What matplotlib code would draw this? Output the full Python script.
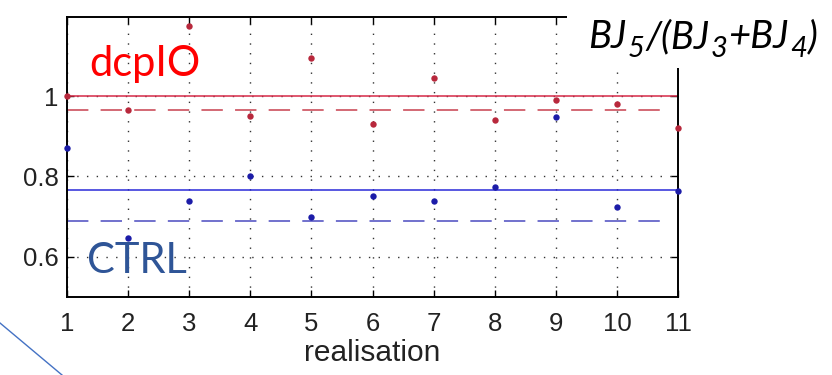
import numpy as np
import matplotlib
matplotlib.use("Agg")
import matplotlib.pyplot as plt
from matplotlib.lines import Line2D
from matplotlib.patches import Rectangle

plt.rcParams["font.family"] = "Liberation Sans"

# ---------- Data ----------
realisation = np.arange(1, 12)
dcpio = [1.000, 0.965, 1.175, 0.950, 1.095, 0.930, 1.045, 0.940, 0.990, 0.980, 0.920]
ctrl = [0.872, 0.647, 0.740, 0.800, 0.700, 0.752, 0.740, 0.775, 0.947, 0.725, 0.765]
dcpio_solid, dcpio_dashed = 1.000, 0.965
ctrl_solid, ctrl_dashed = 0.767, 0.690
x_ticks = list(range(1, 12))
y_ticks = [0.6, 0.8, 1.0]
y_tick_labels = ["0.6", "0.8", "1"]

RED_LINE = "#d62a48"
RED_DOT = "#b8283c"
BLUE_LINE = "#2a2ad8"
BLUE_DOT = "#1c1ca8"

W, H = 832, 375
fig = plt.figure(figsize=(W / 100, H / 100), dpi=100)
ax = fig.add_axes([67 / W, 1 - 297 / H, (678 - 67) / W, (297 - 17) / H])

# reference lines
ax.axhline(dcpio_solid, color=RED_LINE, lw=1.1, zorder=2)
ax.axhline(ctrl_solid, color=BLUE_LINE, lw=1.1, zorder=2)
ax.plot([1, 10.7], [dcpio_dashed] * 2, color="#c8404e", lw=1.1,
        dashes=(14, 8), zorder=2)
ax.plot([1, 10.7], [ctrl_dashed] * 2, color="#4a4ac0", lw=1.1,
        dashes=(14, 8), zorder=2)

# points
ax.plot(realisation, dcpio, "o", color=RED_DOT, ms=4.6, mew=0,
        clip_on=False, zorder=3)
ax.plot(realisation, ctrl, "o", color=BLUE_DOT, ms=4.6, mew=0,
        clip_on=False, zorder=3)

ax.set_xlim(1, 11)
ax.set_ylim(0.5, 1.197)
ax.set_xticks(x_ticks)
ax.set_yticks(y_ticks)
ax.set_yticklabels(y_tick_labels)
ax.grid(True, color="#333333", lw=1.0, linestyle=(0, (1, 6)))
ax.tick_params(direction="in", top=True, right=True, length=5, width=1,
               labelsize=18.5, labelcolor="#222222")
ax.tick_params(axis="x", pad=11)
ax.tick_params(axis="y", pad=6)
for s in ax.spines.values():
    s.set_linewidth(1.4)
ax.set_xlabel("realisation", fontsize=21.5, color="#222222", labelpad=2)

# slide annotations
fig.text(89 / W, 1 - 76 / H, "dcpIO", fontsize=30, family="Lato",
         color="#ff0000")
fig.text(87 / W, 1 - 273 / H, "CTRL", fontsize=30, family="Lato",
         color="#2f5597")

fig.add_artist(Rectangle((567 / W, 1 - 68 / H), (W - 567) / W, 68 / H,
                         transform=fig.transFigure, facecolor="white",
                         edgecolor="none", zorder=5))

# BJ5/(BJ3+BJ4) written piece by piece, italic with italic subscripts
pieces = [("BJ", False), ("5", True), ("/(BJ", False), ("3", True),
          ("+BJ", False), ("4", True), (")", False)]
renderer = fig.canvas.get_renderer()
x_px, base_px = 588, 48
for txt, sub in pieces:
    size = 21 if sub else 27.5
    y_px = base_px + 9 if sub else base_px
    t = fig.text(x_px / W, 1 - y_px / H, txt, fontsize=size, family="Lato",
                 style="italic", color="black", zorder=6)
    bb = t.get_window_extent(renderer)
    x_px += bb.width + 1

fig.add_artist(Line2D([0, 62 / W], [1 - 323 / H, 0], transform=fig.transFigure,
                      color="#4472c4", lw=1.0))

fig.savefig("out.png", dpi=100)
